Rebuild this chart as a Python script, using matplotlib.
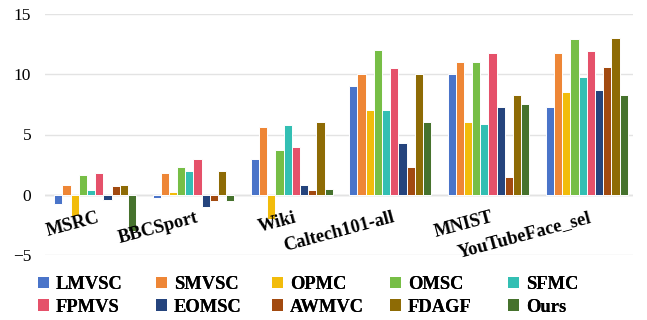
import matplotlib
matplotlib.use("Agg")
import matplotlib.pyplot as plt
from matplotlib.patches import Patch
import numpy as np

datasets = ["MSRC", "BBCSport", "Wiki", "Caltech101-all", "MNIST", "YouTubeFace_sel"]
methods = ["LMVSC", "SMVSC", "OPMC", "OMSC", "SFMC",
           "FPMVS", "EOMSC", "AWMVC", "FDAGF", "Ours"]

lmvsc = [-0.8, -0.3, 3.0, 9.0, 10.0, 7.3]
smvsc = [0.8, 1.8, 5.6, 10.0, 11.0, 11.75]
opmc = [-1.8, 0.2, -2.0, 7.0, 6.0, 8.5]
omsc = [1.6, 2.3, 3.7, 12.0, 11.0, 12.9]
sfmc = [0.4, 2.0, 5.8, 7.0, 5.9, 9.8]
fpmvs = [1.8, 3.0, 4.0, 10.5, 11.8, 11.9]
eomsc = [-0.4, -1.0, 0.8, 4.3, 7.3, 8.7]
awmvc = [0.7, -0.5, 0.4, 2.3, 1.5, 10.6]
fdagf = [0.8, 2.0, 6.0, 10.0, 8.3, 13.0]
ours = [-3.0, -0.5, 0.5, 6.0, 7.5, 8.3]

series = [lmvsc, smvsc, opmc, omsc, sfmc, fpmvs, eomsc, awmvc, fdagf, ours]
colors = ["#4A74C9", "#EE8636", "#F2BC0B", "#77BE46", "#33BFB3",
          "#E5516A", "#25447D", "#A24A10", "#8E6B05", "#46722D"]

W, H = 647, 320
fig = plt.figure(figsize=(W / 100, H / 100), dpi=100)
ax = fig.add_axes([45 / W, 1 - 255 / H, 588 / W, 241 / H])

x = np.arange(len(datasets))
bw = 0.0833
for k, (vals, c) in enumerate(zip(series, colors)):
    ax.bar(x + (k - 4.5) * bw, vals, width=bw, color=c,
           edgecolor="white", linewidth=0.7, zorder=3)

ax.set_ylim(-5, 15)
ax.set_xlim(-0.51, 5.47)
ax.set_yticks([-5, 0, 5, 10, 15])
ax.set_yticklabels(["\u22125", "0", "5", "10", "15"],
                   family="Liberation Serif", fontsize=12.5)
ax.tick_params(axis="y", length=0, pad=10)
ax.set_xticks([])
for s in ax.spines.values():
    s.set_visible(False)
ax.yaxis.grid(True, color="#E3E3E3", linewidth=1.0, zorder=0)
ax.axhline(0, color="#D6D6D6", linewidth=1.0, zorder=1)

for i, name in enumerate(datasets):
    ax.text(i + 0.02, -1.2, name, rotation=15, rotation_mode="anchor",
            ha="right", va="top", family="Liberation Serif",
            fontweight="bold", fontsize=13.3, zorder=4)

# legend: two rows of five, evenly spaced columns (one small legend per column)
ncol = 5
col_x = [38, 156, 272, 390, 508]
for c in range(ncol):
    idx = [c, c + ncol]
    hs = [Patch(facecolor=colors[i], edgecolor="none") for i in idx]
    leg = fig.legend(hs, [methods[i] for i in idx], loc="upper left",
                     bbox_to_anchor=(col_x[c] / W, 1 - 276 / H), frameon=False,
                     prop={"family": "Liberation Serif", "weight": "bold",
                           "size": 13.3},
                     handlelength=0.62, handleheight=0.62, handletextpad=0.35,
                     labelspacing=0.3, borderpad=0, borderaxespad=0)
    fig.add_artist(leg)

fig.savefig("out.png", dpi=100)
